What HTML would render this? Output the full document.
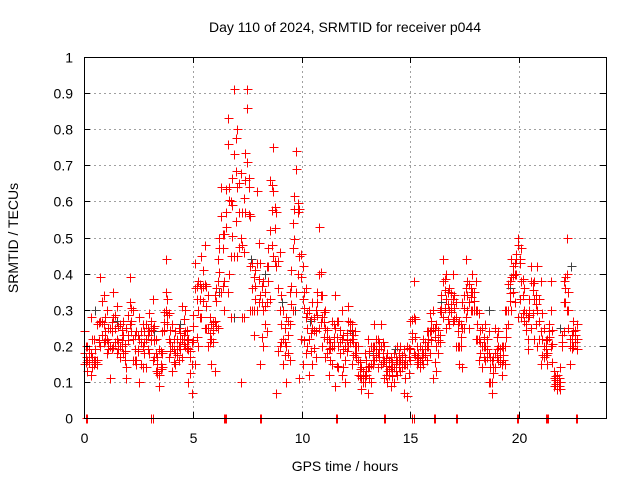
<!DOCTYPE html>
<html><head><meta charset="utf-8"><style>
html,body{margin:0;padding:0;background:#fff}
svg{display:block;font-family:"Liberation Sans",sans-serif}
</style></head><body>
<svg id="chart" width="640" height="480" viewBox="0 0 640 480" xmlns="http://www.w3.org/2000/svg">
<rect width="640" height="480" fill="#fff"/>
<text x="345" y="32" font-size="14" text-anchor="middle">Day 110 of 2024, SRMTID for receiver p044</text>
<text x="345" y="471" font-size="14" text-anchor="middle">GPS time / hours</text>
<text transform="translate(18,238) rotate(-90)" font-size="14" text-anchor="middle">SRMTID / TECUs</text>
<g id="grid"></g>
<g id="gray" shape-rendering="crispEdges"></g>
<g id="red" shape-rendering="crispEdges"></g>
<g id="axes"></g>
</svg>
<script>
const xTicks=[0,5,10,15,20];
const yTicks=[0,0.1,0.2,0.3,0.4,0.5,0.6,0.7,0.8,0.9,1];
const yTickLabels=["0","0.1","0.2","0.3","0.4","0.5","0.6","0.7","0.8","0.9","1"];
const hours=[0,0.15,0.3,0.45,0.6,0.75,0.9,1.05,1.2,1.35,1.5,1.65,1.8,1.95,2.1,2.25,2.4,2.55,2.7,2.85,3,3.15,3.3,3.45,3.6,3.75,3.9,4.05,4.2,4.35,4.5,4.65,4.8,4.95,5.1,5.25,5.4,5.55,5.7,5.85,6,6.15,6.3,6.45,6.6,6.75,6.9,7.05,7.2,7.35,7.5,7.65,7.8,7.95,8.1,8.25,8.4,8.55,8.7,8.85,9,9.15,9.3,9.45,9.6,9.75,9.9,10.05,10.2,10.35,10.5,10.65,10.8,10.95,11.1,11.25,11.4,11.55,11.7,11.85,12,12.15,12.3,12.45,12.6,12.75,12.9,13.05,13.2,13.35,13.5,13.65,13.8,13.95,14.1,14.25,14.4,14.55,14.7,14.85,15,15.15,15.3,15.45,15.6,15.75,15.9,16.05,16.2,16.35,16.5,16.65,16.8,16.95,17.1,17.25,17.4,17.55,17.7,17.85,18,18.15,18.3,18.45,18.6,18.75,18.9,19.05,19.2,19.35,19.5,19.65,19.8,19.95,20.1,20.25,20.4,20.55,20.7,20.85,21,21.15,21.3,21.45,21.6,21.75,21.9,22.05,22.2,22.35,22.5,22.65];
const srHigh=[.24,.2,.28,.22,.26,.39,.34,.3,.25,.35,.31,.26,.27,.25,.39,.3,.24,.28,.26,.26,.29,.33,.22,.19,.24,.44,.29,.26,.24,.25,.31,.3,.22,.21,.43,.38,.45,.48,.34,.26,.34,.44,.64,.51,.83,.6,.91,.8,.68,.61,.91,.56,.39,.63,.43,.38,.42,.66,.75,.57,.46,.3,.28,.35,.54,.74,.58,.42,.36,.3,.32,.3,.53,.34,.3,.22,.27,.34,.27,.3,.2,.31,.26,.24,.2,.14,.18,.22,.2,.26,.22,.26,.2,.18,.17,.18,.2,.2,.19,.2,.27,.38,.2,.2,.22,.24,.29,.3,.26,.3,.44,.4,.36,.4,.32,.27,.32,.44,.37,.4,.38,.29,.25,.26,.24,.16,.25,.24,.2,.3,.37,.44,.43,.5,.47,.36,.28,.42,.38,.42,.38,.25,.22,.38,.13,.12,.14,.38,.5,.22,.27,.26];
const srMid=[.18,.16,.18,.16,.16,.27,.26,.22,.2,.28,.22,.2,.23,.14,.32,.22,.16,.22,.2,.22,.24,.25,.18,.12,.18,.35,.22,.2,.18,.2,.22,.24,.19,.15,.36,.3,.36,.37,.25,.22,.27,.38,.56,.38,.76,.45,.73,.64,.5,.46,.86,.42,.3,.43,.34,.3,.32,.52,.63,.42,.3,.22,.2,.26,.47,.69,.45,.33,.28,.22,.25,.24,.4,.28,.25,.19,.2,.25,.2,.22,.16,.27,.22,.2,.16,.11,.12,.14,.15,.2,.18,.2,.16,.13,.14,.14,.16,.16,.15,.15,.19,.28,.17,.16,.18,.2,.24,.25,.2,.23,.38,.33,.3,.33,.28,.2,.25,.36,.32,.35,.3,.22,.2,.2,.18,.1,.18,.2,.15,.2,.3,.39,.4,.48,.38,.3,.22,.38,.33,.3,.24,.2,.18,.3,.11,.1,.1,.32,.4,.2,.24,.22];
const srLow=[.15,.13,.12,.15,.15,.2,.21,.18,.11,.2,.18,.17,.18,.11,.26,.16,.15,.1,.14,.14,.18,.16,.13,.09,.14,.3,.17,.13,.15,.16,.17,.2,.1,.07,.15,.2,.28,.25,.2,.15,.13,.25,.35,.3,.35,.28,.45,.45,.1,.28,.71,.3,.23,.3,.15,.2,.24,.33,.45,.07,.2,.15,.1,.16,.3,.35,.11,.15,.18,.12,.15,.17,.25,.2,.17,.12,.15,.09,.14,.12,.1,.2,.15,.18,.12,.08,.1,.07,.1,.16,.14,.15,.11,.1,.09,.1,.12,.13,.07,.06,.16,.18,.15,.14,.15,.16,.18,.11,.13,.21,.28,.25,.26,.27,.2,.15,.14,.28,.25,.3,.22,.16,.14,.16,.1,.07,.14,.16,.12,.15,.26,.3,.32,.28,.28,.27,.19,.25,.22,.2,.15,.17,.15,.2,.09,.08,.08,.24,.3,.15,.2,.19];
const grayHours=[0.5,1.5,3.2,4.4,6.2,6.9,7.7,8.3,9.1,9.7,10.4,12.3,13.1,14.3,15.8,16.4,17.6,18.6,19.6,20.8,21.9,22.4];
const grayVals=[.3,.27,.24,.26,.35,.28,.44,.4,.32,.3,.27,.24,.18,.19,.2,.32,.38,.3,.36,.33,.25,.42];
const zeroHours=[0.1,0.15,3.1,3.15,6.45,6.5,6.55,8.1,8.15,11.6,11.65,13.8,13.85,15.1,15.15,16.1,16.15,17.1,17.15,19.9,19.95,21.25,21.3,21.35,22.6,22.65];

const X0=84,X1=606,Y0=418,Y1=57;
const xs=h=>X0+h/24*(X1-X0);
const ys=v=>Y0-v*(Y0-Y1);
const NS="http://www.w3.org/2000/svg";
function mk(tag,attrs,parent){const e=document.createElementNS(NS,tag);for(const k in attrs)e.setAttribute(k,attrs[k]);parent.appendChild(e);return e;}
const grid=document.getElementById('grid'),axes=document.getElementById('axes');
xTicks.forEach(t=>{
  const x=Math.round(xs(t))+0.5;
  if(t>0){const l=mk('line',{x1:x,y1:Y0,x2:x,y2:Y1,stroke:'#a0a0a0','stroke-dasharray':'2,3','stroke-width':1},grid);
  
  }
  mk('line',{x1:x,y1:Y0,x2:x,y2:Y0-6,stroke:'#000'},axes);
  mk('line',{x1:x,y1:Y1,x2:x,y2:Y1+6,stroke:'#000'},axes);
  const tx=mk('text',{x:x,y:443,'font-size':14,'text-anchor':'middle'},axes);
  tx.textContent=String(t);
  
  
});
yTicks.forEach((t,i)=>{
  const y=Math.round(ys(t))+0.5;
  if(t>0&&t<1){const l=mk('line',{x1:X0,y1:y,x2:X1,y2:y,stroke:'#a0a0a0','stroke-dasharray':'2,3','stroke-width':1},grid);
  
  }
  mk('line',{x1:X0,y1:y,x2:X0+6,y2:y,stroke:'#000'},axes);
  mk('line',{x1:X1,y1:y,x2:X1-6,y2:y,stroke:'#000'},axes);
  const tx=mk('text',{x:73,y:y+5,'font-size':14,'text-anchor':'end'},axes);
  tx.textContent=yTickLabels[i];
  
  
});
const box=mk('rect',{x:X0+0.5,y:Y1+0.5,width:X1-X0,height:Y0-Y1,fill:'none',stroke:'#000','stroke-width':1},axes);


function plus(g,h,v,col){
  const x=Math.round(xs(h))+0.5,y=Math.round(ys(v))+0.5;
  const p=mk('path',{d:`M${x-4},${y}h9M${x},${y-4}v9`,stroke:col,'stroke-width':1,fill:'none'},g);
  
  
}
const gg=document.getElementById('gray'),rg=document.getElementById('red');
grayHours.forEach((h,i)=>plus(gg,h,grayVals[i],'#404040'));
hours.forEach((h,i)=>{plus(rg,h,srHigh[i],'#f00');plus(rg,h,srMid[i],'#f00');plus(rg,h,srLow[i],'#f00');});
hours.forEach((h,i)=>{if(i+1<hours.length){const hm=(h+hours[i+1])/2;plus(rg,hm,(srMid[i]+srMid[i+1])/2,'#f00');plus(rg,hm,(srLow[i]+srMid[i+1])/2,'#f00');plus(rg,hm,(srHigh[i]+srMid[i+1])/2,'#f00');}});
zeroHours.forEach(h=>plus(rg,h,0,'#f00'));
</script>
</body></html>
